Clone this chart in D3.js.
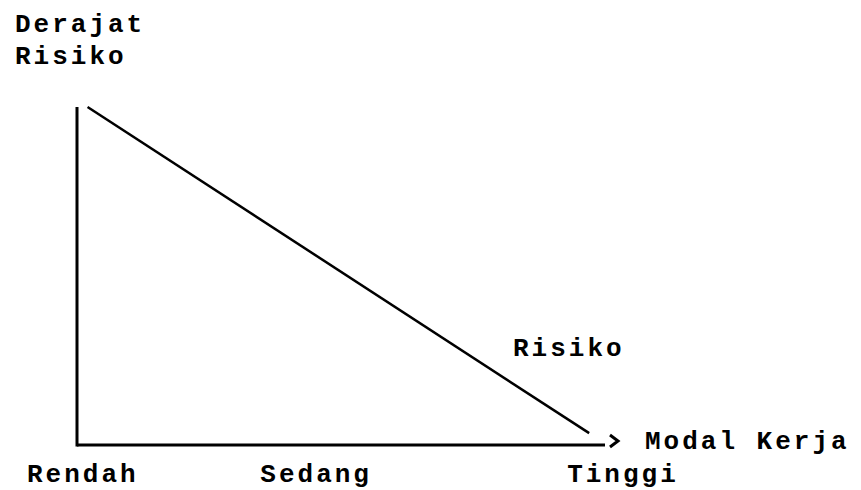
<!DOCTYPE html>
<html>
<head>
<meta charset="utf-8">
<script src="https://cdn.jsdelivr.net/npm/d3@7"></script>
<style>
  body { margin: 0; background: #fff; }
  text { font-family: "Liberation Mono", "DejaVu Sans Mono", monospace; font-weight: bold; fill: #000; }
</style>
</head>
<body>
<div id="chart"></div>
<script>
// data
const yTitle = ["Derajat", "Risiko"];
const xTitle = "Modal Kerja";
const categories = ["Rendah", "Sedang", "Tinggi"];
const categoryPos = [0.11, 4.53, 10.34];     // modal kerja units
const modalKerja = [0.2, 9.7];
const risiko = [10.0, 0.35];
const lineLabel = "Risiko";

const width = 861, height = 490;

const svg = d3.select("#chart").append("svg")
    .attr("width", width)
    .attr("height", height);

const x = d3.scaleLinear().domain([0, 10]).range([77, 605]);
const y = d3.scaleLinear().domain([0, 10]).range([445, 107]);

// axes (plain lines, no ticks)
svg.append("line")
    .attr("x1", x(0)).attr("x2", x(0))
    .attr("y1", y(0) + 1.5).attr("y2", y(10))
    .attr("stroke", "#000").attr("stroke-width", 3);

svg.append("line")
    .attr("x1", x(0)).attr("x2", x(10))
    .attr("y1", y(0)).attr("y2", y(0))
    .attr("stroke", "#000").attr("stroke-width", 3);

// little arrow head at end of x axis
svg.append("path")
    .attr("d", `M${x(10) + 5},${y(0) - 10} L${x(10) + 13},${y(0) - 4} L${x(10) + 5},${y(0) + 2}`)
    .attr("fill", "none")
    .attr("stroke", "#000")
    .attr("stroke-width", 3);

// risk line
const pts = modalKerja.map((m, i) => [x(m), y(risiko[i])]);
svg.append("path")
    .attr("d", d3.line()(pts))
    .attr("fill", "none")
    .attr("stroke", "#000")
    .attr("stroke-width", 2.5);

const fs = "26px", ls = "3px";

// y title
svg.selectAll(".ytitle").data(yTitle)
    .enter()
    .append("text")
    .attr("class", "ytitle")
    .attr("x", 15)
    .attr("y", (d, i) => 32 + i * 32)
    .style("font-size", fs)
    .style("letter-spacing", ls)
    .text(d => d);

// x title
svg.append("text")
    .attr("x", x(10) + 40)
    .attr("y", y(0) + 4)
    .style("font-size", fs)
    .style("letter-spacing", ls)
    .text(xTitle);

// category labels
svg.selectAll(".cat").data(categories)
    .enter()
    .append("text")
    .attr("class", "cat")
    .attr("x", (d, i) => x(categoryPos[i]))
    .attr("y", y(0) + 37)
    .attr("text-anchor", "middle")
    .style("font-size", fs)
    .style("letter-spacing", ls)
    .text(d => d);

// line label
svg.append("text")
    .attr("x", 513)
    .attr("y", 356)
    .style("font-size", fs)
    .style("letter-spacing", ls)
    .text(lineLabel);
</script>
</body>
</html>
